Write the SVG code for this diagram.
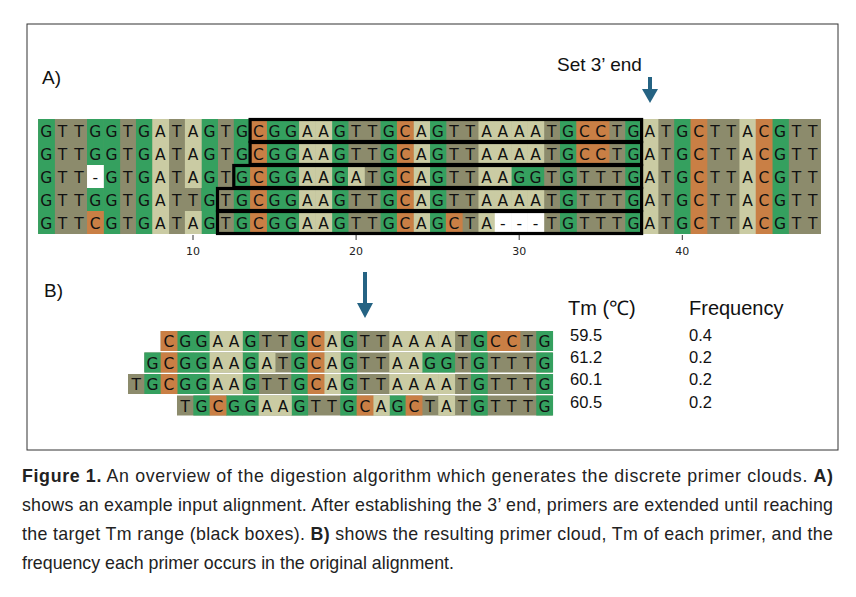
<svg xmlns="http://www.w3.org/2000/svg" width="856" height="597" viewBox="0 0 856 597">
<style>
.g{fill:#35a05f}.a{fill:#cacba3}.t{fill:#8c8b6c}.c{fill:#c97f45}.w{fill:#fff}
.ra rect{width:1.03px;height:23px}
.rb rect{width:1.03px;height:20px}
.seq{font-family:"DejaVu Sans",sans-serif;font-size:15.5px;fill:#111;text-anchor:middle}
.box{fill:none;stroke:#000;stroke-width:3.2}
.lbl{font-family:"Liberation Sans",Arial,sans-serif;fill:#111}
.cap{font-family:"Liberation Sans",Arial,sans-serif;font-size:17.8px;fill:#222}
.arr{fill:#256383}
</style>
<rect x="27" y="24" width="811" height="426" fill="#fff" stroke="#333" stroke-width="1"/>
<text class="lbl" x="42" y="84" font-size="19">A)</text>
<text class="lbl" x="557" y="71" font-size="19">Set 3’ end</text>
<g id="arrowA" class="arr"><rect x="648" y="77" width="4" height="15"/><polygon points="642,89 658,89 650,103"/></g>

<g id="alignment">
<g class="ra" transform="translate(38.1,119) scale(16.31,1)">
<rect class="t" x="0" style="width:48px"/>
<rect class="g" x="0"/><rect class="g" x="3"/><rect class="g" x="4"/><rect class="g" x="6"/><rect class="g" x="10"/><rect class="g" x="12"/><rect class="g" x="14"/><rect class="g" x="15"/><rect class="g" x="18"/><rect class="g" x="21"/><rect class="g" x="24"/><rect class="g" x="32"/><rect class="g" x="36"/><rect class="g" x="39"/><rect class="g" x="45"/>
<rect class="a" x="7"/><rect class="a" x="9"/><rect class="a" x="16"/><rect class="a" x="17"/><rect class="a" x="23"/><rect class="a" x="27"/><rect class="a" x="28"/><rect class="a" x="29"/><rect class="a" x="30"/><rect class="a" x="37"/><rect class="a" x="43"/>
<rect class="c" x="13"/><rect class="c" x="22"/><rect class="c" x="33"/><rect class="c" x="34"/><rect class="c" x="40"/><rect class="c" x="44"/>
</g>
<g class="ra" transform="translate(38.1,142) scale(16.31,1)">
<rect class="t" x="0" style="width:48px"/>
<rect class="g" x="0"/><rect class="g" x="3"/><rect class="g" x="4"/><rect class="g" x="6"/><rect class="g" x="10"/><rect class="g" x="12"/><rect class="g" x="14"/><rect class="g" x="15"/><rect class="g" x="18"/><rect class="g" x="21"/><rect class="g" x="24"/><rect class="g" x="32"/><rect class="g" x="36"/><rect class="g" x="39"/><rect class="g" x="45"/>
<rect class="a" x="7"/><rect class="a" x="9"/><rect class="a" x="16"/><rect class="a" x="17"/><rect class="a" x="23"/><rect class="a" x="27"/><rect class="a" x="28"/><rect class="a" x="29"/><rect class="a" x="30"/><rect class="a" x="37"/><rect class="a" x="43"/>
<rect class="c" x="13"/><rect class="c" x="22"/><rect class="c" x="33"/><rect class="c" x="34"/><rect class="c" x="40"/><rect class="c" x="44"/>
</g>
<g class="ra" transform="translate(38.1,165) scale(16.31,1)">
<rect class="t" x="0" style="width:48px"/>
<rect class="g" x="0"/><rect class="g" x="4"/><rect class="g" x="6"/><rect class="g" x="10"/><rect class="g" x="12"/><rect class="g" x="14"/><rect class="g" x="15"/><rect class="g" x="18"/><rect class="g" x="21"/><rect class="g" x="24"/><rect class="g" x="29"/><rect class="g" x="30"/><rect class="g" x="32"/><rect class="g" x="36"/><rect class="g" x="39"/><rect class="g" x="45"/>
<rect class="a" x="7"/><rect class="a" x="9"/><rect class="a" x="16"/><rect class="a" x="17"/><rect class="a" x="19"/><rect class="a" x="23"/><rect class="a" x="27"/><rect class="a" x="28"/><rect class="a" x="37"/><rect class="a" x="43"/>
<rect class="c" x="13"/><rect class="c" x="22"/><rect class="c" x="40"/><rect class="c" x="44"/>
<rect class="w" x="3"/>
</g>
<g class="ra" transform="translate(38.1,188) scale(16.31,1)">
<rect class="t" x="0" style="width:48px"/>
<rect class="g" x="0"/><rect class="g" x="3"/><rect class="g" x="4"/><rect class="g" x="6"/><rect class="g" x="10"/><rect class="g" x="12"/><rect class="g" x="14"/><rect class="g" x="15"/><rect class="g" x="18"/><rect class="g" x="21"/><rect class="g" x="24"/><rect class="g" x="32"/><rect class="g" x="36"/><rect class="g" x="39"/><rect class="g" x="45"/>
<rect class="a" x="7"/><rect class="a" x="16"/><rect class="a" x="17"/><rect class="a" x="23"/><rect class="a" x="27"/><rect class="a" x="28"/><rect class="a" x="29"/><rect class="a" x="30"/><rect class="a" x="37"/><rect class="a" x="43"/>
<rect class="c" x="13"/><rect class="c" x="22"/><rect class="c" x="40"/><rect class="c" x="44"/>
</g>
<g class="ra" transform="translate(38.1,211) scale(16.31,1)">
<rect class="t" x="0" style="width:48px"/>
<rect class="g" x="0"/><rect class="g" x="4"/><rect class="g" x="6"/><rect class="g" x="10"/><rect class="g" x="12"/><rect class="g" x="14"/><rect class="g" x="15"/><rect class="g" x="18"/><rect class="g" x="21"/><rect class="g" x="24"/><rect class="g" x="32"/><rect class="g" x="36"/><rect class="g" x="39"/><rect class="g" x="45"/>
<rect class="a" x="7"/><rect class="a" x="9"/><rect class="a" x="16"/><rect class="a" x="17"/><rect class="a" x="23"/><rect class="a" x="27"/><rect class="a" x="37"/><rect class="a" x="43"/>
<rect class="c" x="3"/><rect class="c" x="13"/><rect class="c" x="22"/><rect class="c" x="25"/><rect class="c" x="40"/><rect class="c" x="44"/>
<rect class="w" x="28"/><rect class="w" x="29"/><rect class="w" x="30"/>
</g>
<g class="seq">
<text y="136.5" x="46.3 62.6 78.9 95.2 111.5 127.8 144.1 160.4 176.7 193.0 209.4 225.7 242.0 258.3 274.6 290.9 307.2 323.5 339.8 356.1 372.4 388.7 405.0 421.4 437.7 454.0 470.3 486.6 502.9 519.2 535.5 551.8 568.1 584.4 600.7 617.0 633.4 649.7 666.0 682.3 698.6 714.9 731.2 747.5 763.8 780.1 796.4 812.7">GTTGGTGATAGTGCGGAAGTTGCAGTTAAAATGCCTGATGCTTACGTT</text>
<text y="159.5" x="46.3 62.6 78.9 95.2 111.5 127.8 144.1 160.4 176.7 193.0 209.4 225.7 242.0 258.3 274.6 290.9 307.2 323.5 339.8 356.1 372.4 388.7 405.0 421.4 437.7 454.0 470.3 486.6 502.9 519.2 535.5 551.8 568.1 584.4 600.7 617.0 633.4 649.7 666.0 682.3 698.6 714.9 731.2 747.5 763.8 780.1 796.4 812.7">GTTGGTGATAGTGCGGAAGTTGCAGTTAAAATGCCTGATGCTTACGTT</text>
<text y="182.5" x="46.3 62.6 78.9 95.2 111.5 127.8 144.1 160.4 176.7 193.0 209.4 225.7 242.0 258.3 274.6 290.9 307.2 323.5 339.8 356.1 372.4 388.7 405.0 421.4 437.7 454.0 470.3 486.6 502.9 519.2 535.5 551.8 568.1 584.4 600.7 617.0 633.4 649.7 666.0 682.3 698.6 714.9 731.2 747.5 763.8 780.1 796.4 812.7">GTT-GTGATAGTGCGGAAGATGCAGTTAAGGTGTTTGATGCTTACGTT</text>
<text y="205.5" x="46.3 62.6 78.9 95.2 111.5 127.8 144.1 160.4 176.7 193.0 209.4 225.7 242.0 258.3 274.6 290.9 307.2 323.5 339.8 356.1 372.4 388.7 405.0 421.4 437.7 454.0 470.3 486.6 502.9 519.2 535.5 551.8 568.1 584.4 600.7 617.0 633.4 649.7 666.0 682.3 698.6 714.9 731.2 747.5 763.8 780.1 796.4 812.7">GTTGGTGATTGTGCGGAAGTTGCAGTTAAAATGTTTGATGCTTACGTT</text>
<text y="228.5" x="46.3 62.6 78.9 95.2 111.5 127.8 144.1 160.4 176.7 193.0 209.4 225.7 242.0 258.3 274.6 290.9 307.2 323.5 339.8 356.1 372.4 388.7 405.0 421.4 437.7 454.0 470.3 486.6 502.9 519.2 535.5 551.8 568.1 584.4 600.7 617.0 633.4 649.7 666.0 682.3 698.6 714.9 731.2 747.5 763.8 780.1 796.4 812.7">GTTCGTGATAGTGCGGAAGTTGCAGCTA---TGTTTGATGCTTACGTT</text>
</g>
<g id="boxes">
<rect class="box" x="250.1" y="119.5" width="391.5" height="22"/>
<rect class="box" x="250.1" y="142.5" width="391.5" height="22"/>
<rect class="box" x="233.8" y="165.5" width="407.8" height="22"/>
<rect class="box" x="217.5" y="188.5" width="424.1" height="22"/>
<rect class="box" x="217.5" y="211.5" width="424.1" height="22"/>
</g>
<g id="axis" stroke="#333" stroke-width="1">
<line x1="193" y1="235" x2="193" y2="240"/><line x1="356.1" y1="235" x2="356.1" y2="240"/><line x1="519.2" y1="235" x2="519.2" y2="240"/><line x1="682.3" y1="235" x2="682.3" y2="240"/>
</g>
<g font-family="DejaVu Sans,sans-serif" font-size="11" fill="#222" text-anchor="middle">
<text x="193" y="255">10</text><text x="356.1" y="255">20</text><text x="519.2" y="255">30</text><text x="682.3" y="255">40</text>
</g>
</g>

<text class="lbl" x="44" y="297" font-size="19">B)</text>
<g id="arrowB" class="arr"><rect x="363" y="272" width="4" height="33"/><polygon points="357,303 373,303 365,318"/></g>

<g id="cloud">
<g class="rb" transform="translate(128,331) scale(16.33,1)">
<rect class="t" x="2" style="width:24px"/>
<rect class="g" x="3"/><rect class="g" x="4"/><rect class="g" x="7"/><rect class="g" x="10"/><rect class="g" x="13"/><rect class="g" x="21"/><rect class="g" x="25"/>
<rect class="a" x="5"/><rect class="a" x="6"/><rect class="a" x="12"/><rect class="a" x="16"/><rect class="a" x="17"/><rect class="a" x="18"/><rect class="a" x="19"/>
<rect class="c" x="2"/><rect class="c" x="11"/><rect class="c" x="22"/><rect class="c" x="23"/>
</g>
<g class="rb" transform="translate(128,352.5) scale(16.33,1)">
<rect class="t" x="1" style="width:25px"/>
<rect class="g" x="1"/><rect class="g" x="3"/><rect class="g" x="4"/><rect class="g" x="7"/><rect class="g" x="10"/><rect class="g" x="13"/><rect class="g" x="18"/><rect class="g" x="19"/><rect class="g" x="21"/><rect class="g" x="25"/>
<rect class="a" x="5"/><rect class="a" x="6"/><rect class="a" x="8"/><rect class="a" x="12"/><rect class="a" x="16"/><rect class="a" x="17"/>
<rect class="c" x="2"/><rect class="c" x="11"/>
</g>
<g class="rb" transform="translate(128,374) scale(16.33,1)">
<rect class="t" x="0" style="width:26px"/>
<rect class="g" x="1"/><rect class="g" x="3"/><rect class="g" x="4"/><rect class="g" x="7"/><rect class="g" x="10"/><rect class="g" x="13"/><rect class="g" x="21"/><rect class="g" x="25"/>
<rect class="a" x="5"/><rect class="a" x="6"/><rect class="a" x="12"/><rect class="a" x="16"/><rect class="a" x="17"/><rect class="a" x="18"/><rect class="a" x="19"/>
<rect class="c" x="2"/><rect class="c" x="11"/>
</g>
<g class="rb" transform="translate(128,395.5) scale(16.33,1)">
<rect class="t" x="3" style="width:23px"/>
<rect class="g" x="4"/><rect class="g" x="6"/><rect class="g" x="7"/><rect class="g" x="10"/><rect class="g" x="13"/><rect class="g" x="16"/><rect class="g" x="21"/><rect class="g" x="25"/>
<rect class="a" x="8"/><rect class="a" x="9"/><rect class="a" x="15"/><rect class="a" x="19"/>
<rect class="c" x="5"/><rect class="c" x="14"/><rect class="c" x="17"/>
</g>
<g class="seq">
<text y="347" x="168.8 185.2 201.5 217.8 234.1 250.5 266.8 283.1 299.5 315.8 332.1 348.5 364.8 381.1 397.4 413.8 430.1 446.4 462.8 479.1 495.4 511.8 528.1 544.4">CGGAAGTTGCAGTTAAAATGCCTG</text>
<text y="368.5" x="152.5 168.8 185.2 201.5 217.8 234.1 250.5 266.8 283.1 299.5 315.8 332.1 348.5 364.8 381.1 397.4 413.8 430.1 446.4 462.8 479.1 495.4 511.8 528.1 544.4">GCGGAAGATGCAGTTAAGGTGTTTG</text>
<text y="390" x="136.2 152.5 168.8 185.2 201.5 217.8 234.1 250.5 266.8 283.1 299.5 315.8 332.1 348.5 364.8 381.1 397.4 413.8 430.1 446.4 462.8 479.1 495.4 511.8 528.1 544.4">TGCGGAAGTTGCAGTTAAAATGTTTG</text>
<text y="411.5" x="185.2 201.5 217.8 234.1 250.5 266.8 283.1 299.5 315.8 332.1 348.5 364.8 381.1 397.4 413.8 430.1 446.4 462.8 479.1 495.4 511.8 528.1 544.4">TGCGGAAGTTGCAGCTATGTTTG</text>
</g>
</g>

<g id="table" class="lbl">
<text x="568" y="315" font-size="20">Tm (℃)</text>
<text x="689" y="315" font-size="20">Frequency</text>
<g font-size="16.5">
<text x="570" y="341">59.5</text><text x="689" y="341">0.4</text>
<text x="570" y="363">61.2</text><text x="689" y="363">0.2</text>
<text x="570" y="385">60.1</text><text x="689" y="385">0.2</text>
<text x="570" y="408">60.5</text><text x="689" y="408">0.2</text>
</g>
</g>

<g id="caption" class="cap">
<text x="22" y="482" textLength="811" lengthAdjust="spacing"><tspan font-weight="bold">Figure 1.</tspan> An overview of the digestion algorithm which generates the discrete primer clouds. <tspan font-weight="bold">A)</tspan></text>
<text x="22" y="511" textLength="811" lengthAdjust="spacing">shows an example input alignment. After establishing the 3’ end, primers are extended until reaching</text>
<text x="22" y="540" textLength="811" lengthAdjust="spacing">the target Tm range (black boxes). <tspan font-weight="bold">B)</tspan> shows the resulting primer cloud, Tm of each primer, and the</text>
<text x="22" y="569">frequency each primer occurs in the original alignment.</text>
</g>
</svg>
